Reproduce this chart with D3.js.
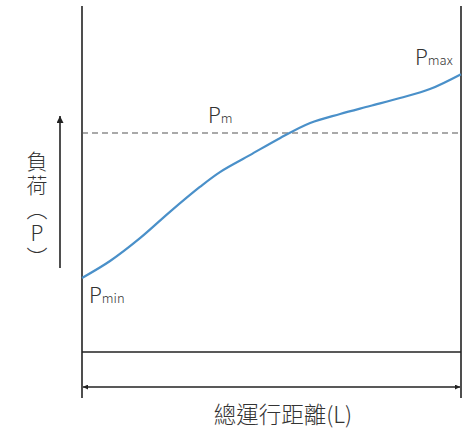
<!DOCTYPE html>
<html>
<head>
<meta charset="utf-8">
<script src="https://cdn.jsdelivr.net/npm/d3@7"></script>
<style>
  body { margin: 0; background: #fff; }
  text { font-family: "Noto Sans CJK TC", "Noto Sans", sans-serif; fill: #333; }
</style>
</head>
<body>
<svg id="chart" width="472" height="429"></svg>
<script>
/* total travel distance L (0..100) vs load P (arbitrary units) */
var distance = [0, 7.4, 15.3, 23.2, 31.1, 36.4, 44.3, 52.2, 60.2, 68.1, 76.0, 83.9, 91.8, 100];
var load     = [21.4, 26.3, 32.9, 40.5, 47.7, 52.0, 56.9, 61.8, 66.2, 68.8, 71.1, 73.4, 76.0, 80.3];
var loadMean = [63.3];
var yLabel = "負荷（P）";
var xLabel = "總運行距離(L)";

var svg = d3.select("#chart");

var x = d3.scaleLinear().domain([0, 100]).range([82, 461]);
var y = d3.scaleLinear().domain([0, 100]).range([352, 6]);

var defs = svg.append("defs");
defs.append("marker")
    .attr("id", "arr")
    .attr("viewBox", "0 0 10 10")
    .attr("refX", 10).attr("refY", 5)
    .attr("markerWidth", 7).attr("markerHeight", 5)
    .attr("markerUnits", "userSpaceOnUse")
    .attr("orient", "auto-start-reverse")
    .append("path").attr("d", "M0,0L10,5L0,10z").attr("fill", "#222");
defs.append("marker")
    .attr("id", "arrY")
    .attr("viewBox", "0 0 10 10")
    .attr("refX", 10).attr("refY", 5)
    .attr("markerWidth", 14).attr("markerHeight", 7)
    .attr("markerUnits", "userSpaceOnUse")
    .attr("orient", "auto")
    .append("path").attr("d", "M0,0L10,5L0,10z").attr("fill", "#222");

// frame lines
var frame = svg.append("g").attr("stroke", "#222").attr("stroke-width", 1.6);
frame.append("line")
    .attr("x1", x(0)).attr("x2", x(0)).attr("y1", 6).attr("y2", 398);
frame.append("line")
    .attr("x1", x(100)).attr("x2", x(100)).attr("y1", 6).attr("y2", 398);
frame.append("line")
    .attr("x1", x(0)).attr("x2", x(100)).attr("y1", y(0)).attr("y2", y(0));

// distance arrow
svg.append("line")
    .attr("x1", x(0) + 1).attr("x2", x(100) - 1)
    .attr("y1", 387).attr("y2", 387)
    .attr("stroke", "#222").attr("stroke-width", 1.6)
    .attr("marker-start", "url(#arr)")
    .attr("marker-end", "url(#arr)");

// load arrow
svg.append("line")
    .attr("x1", 60).attr("x2", 60)
    .attr("y1", 268).attr("y2", 116)
    .attr("stroke", "#222").attr("stroke-width", 1.6)
    .attr("marker-end", "url(#arrY)");

// Pm dashed line
svg.selectAll(".mean").data(loadMean).enter().append("line")
    .attr("class", "mean")
    .attr("x1", x(0)).attr("x2", x(100))
    .attr("y1", function(d){ return y(d); })
    .attr("y2", function(d){ return y(d); })
    .attr("stroke", "#555").attr("stroke-width", 1.2)
    .attr("stroke-dasharray", "6,4");

// load curve
var line = d3.line()
    .x(function(d){ return x(d[0]); })
    .y(function(d){ return y(d[1]); })
    .curve(d3.curveCatmullRom.alpha(0.5));
svg.append("path")
    .datum(d3.zip(distance, load))
    .attr("d", line)
    .attr("fill", "none")
    .attr("stroke", "#4a90c9")
    .attr("stroke-width", 2.2);

// P labels
function plabel(px, py, sub){
    var t = svg.append("text").attr("x", px).attr("y", py);
    t.append("tspan").attr("font-size", 21).attr("font-weight", 300).text("P");
    t.append("tspan").attr("font-size", 13).attr("font-weight", 300).text(sub);
}
plabel(89, 303, "min");
plabel(208, 123, "m");
plabel(415, 65, "max");

// y label, vertical
svg.append("text")
    .attr("x", 37).attr("y", 151)
    .attr("font-size", 21)
    .attr("font-weight", 300)
    .attr("letter-spacing", 3)
    .style("writing-mode", "vertical-rl")
    .style("text-orientation", "upright")
    .text(yLabel);

// x label
svg.append("text")
    .attr("x", 283).attr("y", 423)
    .attr("text-anchor", "middle")
    .attr("font-size", 22.5)
    .attr("font-weight", 300)
    .text(xLabel);
</script>
</body>
</html>
